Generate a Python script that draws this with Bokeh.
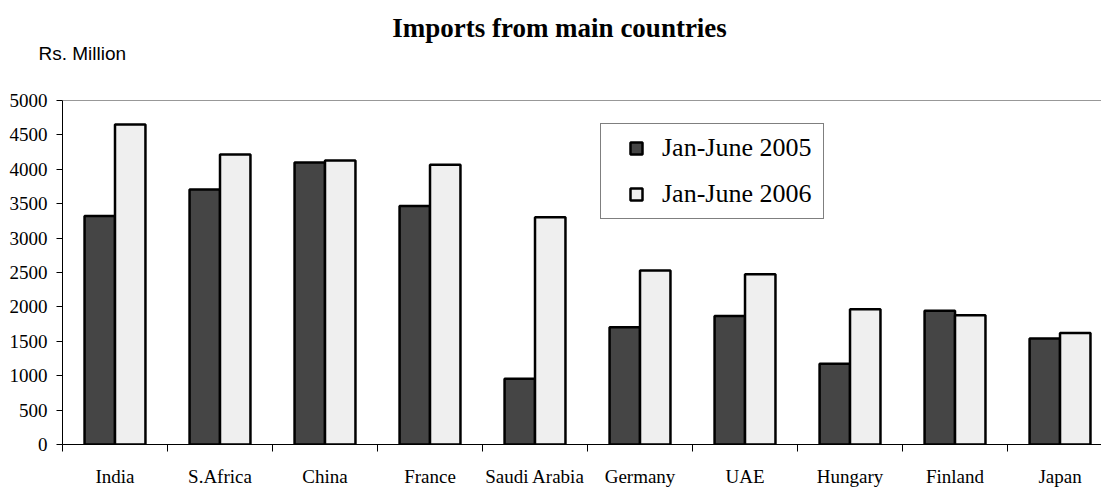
import numpy as np
from bokeh.plotting import figure
from bokeh.layouts import column
from bokeh.models import (Range1d, FixedTicker, Label, Legend, LegendItem,
                          ColumnDataSource, Span)
from bokeh.embed import file_html
from bokeh.resources import INLINE

countries = ["India", "S.Africa", "China", "France", "Saudi Arabia",
             "Germany", "UAE", "Hungary", "Finland", "Japan"]
jan_june_2005 = [3320, 3705, 4100, 3465, 955, 1705, 1868, 1172, 1945, 1540]
jan_june_2006 = [4650, 4215, 4128, 4066, 3302, 2528, 2473, 1965, 1878, 1622]
y_ticks = [0, 500, 1000, 1500, 2000, 2500, 3000, 3500, 4000, 4500, 5000]
series_names = ["Jan-June 2005", "Jan-June 2006"]
chart_title = "Imports from main countries"
unit_label = "Rs. Million"

DARK = "#454545"
LIGHT = "#efefef"
SERIF = "Liberation Serif"
W = 1101
HEAD_H = 88
TOP_PAD = 12


def no_frame_align(fig):
    if "frame_align" in fig.properties():
        fig.frame_align = False


# ---------- header strip with title and unit (data units = page pixels) ----------
head = figure(width=W, height=HEAD_H, output_backend="svg",
              toolbar_location=None,
              x_range=Range1d(0, W), y_range=Range1d(HEAD_H, TOP_PAD),
              x_axis_location=None, y_axis_location=None,
              min_border_left=0, min_border_right=0, min_border_top=0,
              min_border_bottom=0)
no_frame_align(head)
head.outline_line_color = None
head.xgrid.visible = False
head.ygrid.visible = False
head.background_fill_color = "white"
head.border_fill_color = "white"
head.add_layout(Label(text=chart_title, x=559, y=36, text_font=SERIF,
                      text_font_size="27px", text_font_style="bold",
                      text_color="black", text_align="center",
                      text_baseline="alphabetic"))
head.add_layout(Label(text=unit_label, x=38, y=58, text_font="Liberation Sans",
                      text_font_size="19px", text_color="black",
                      text_align="left", text_baseline="alphabetic"))

# ---------- main bar chart ----------
n = len(countries)
centers = np.arange(n) + 0.5
bar_w = 0.29

src = ColumnDataSource(dict(
    x05=centers - bar_w / 2,
    x06=centers + bar_w / 2,
    v05=jan_june_2005,
    v06=jan_june_2006,
))

p = figure(width=W, height=489 - HEAD_H, output_backend="svg",
           toolbar_location=None,
           title=None, x_range=Range1d(0, 9.895), y_range=Range1d(0, 5000),
           min_border_left=62, min_border_right=0, min_border_top=TOP_PAD,
           min_border_bottom=44)
no_frame_align(p)
p.background_fill_color = "white"
p.border_fill_color = "white"
p.outline_line_color = None
p.xgrid.visible = False
p.ygrid.visible = False

p.vbar(x="x05", top="v05", width=bar_w, bottom=0, source=src,
       fill_color=DARK, line_color="black", line_width=2.5)
p.vbar(x="x06", top="v06", width=bar_w, bottom=0, source=src,
       fill_color=LIGHT, line_color="black", line_width=2.5)

# top frame line
p.add_layout(Span(location=y_ticks[-1], dimension="width",
                  line_color="#333333", line_width=1))

# y axis
yax = p.yaxis[0]
yax.ticker = FixedTicker(ticks=y_ticks)
yax.axis_line_color = "black"
yax.major_tick_out = 6
yax.major_tick_in = 0
yax.minor_tick_out = 0
yax.minor_tick_in = 0
yax.major_tick_line_color = "black"
yax.major_label_standoff = 9
yax.major_label_text_font = SERIF
yax.major_label_text_font_size = "19px"
yax.major_label_text_color = "black"

# x axis: labels at category centres, tick marks at boundaries
xax = p.xaxis[0]
xax.ticker = FixedTicker(ticks=list(centers),
                         minor_ticks=list(np.arange(n).astype(float)))
xax.major_label_overrides = {float(c): name for c, name in zip(centers, countries)}
xax.axis_line_color = "black"
xax.major_tick_out = 0
xax.major_tick_in = 0
xax.minor_tick_out = 7
xax.minor_tick_in = 0
xax.minor_tick_line_color = "black"
xax.major_label_standoff = 14
xax.major_label_text_font = SERIF
xax.major_label_text_font_size = "19px"
xax.major_label_text_color = "black"

# legend (square markers as legend glyphs)
legend_src = ColumnDataSource(dict(x=[np.nan], y=[np.nan]))
r05 = p.scatter("x", "y", source=legend_src, marker="square", size=16,
                fill_color=DARK, line_color="black", line_width=2.5)
r06 = p.scatter("x", "y", source=legend_src, marker="square", size=16,
                fill_color=LIGHT, line_color="black", line_width=2.5)
legend = Legend(items=[LegendItem(label=series_names[0], renderers=[r05]),
                       LegendItem(label=series_names[1], renderers=[r06])],
                location=(538, 225), orientation="vertical",
                padding=9, margin=0, spacing=16,
                glyph_width=52, glyph_height=30, label_height=30,
                label_width=152, label_standoff=0,
                label_text_font=SERIF, label_text_font_size="26px",
                label_text_color="black",
                border_line_color="black", border_line_width=1,
                background_fill_color="white", background_fill_alpha=1)
p.add_layout(legend, "center")

open("out.html", "w").write(file_html(column(head, p, spacing=0), INLINE))
